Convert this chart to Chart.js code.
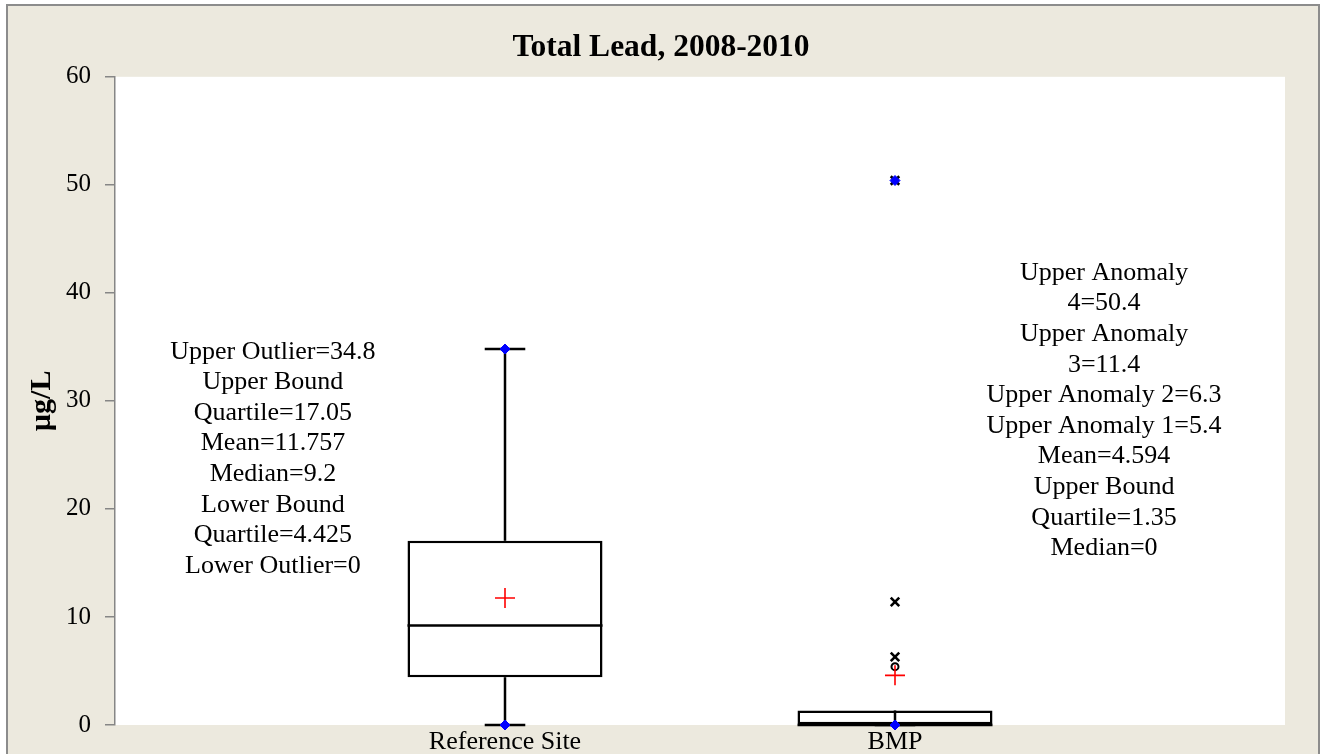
<!DOCTYPE html>
<html>
<head>
<meta charset="utf-8">
<title>Total Lead, 2008-2010</title>
<script src="https://cdn.jsdelivr.net/npm/chart.js@4/dist/chart.umd.min.js"></script>
<style>
  html, body { margin: 0; padding: 0; background: #ffffff; }
  #frame {
    position: absolute; left: 6px; top: 4px;
    width: 1310px; height: 800px;
    background: #ECE9DE; border: 2px solid #8c8c8c;
  }
  #wrap { position: absolute; left: 0; top: 0; width: 1322px; height: 754px; }
</style>
</head>
<body>
<div id="frame"></div>
<div id="wrap"><canvas id="LEADBOX" width="1322" height="754"></canvas></div>
<script>
// groups on the x axis (placed at 1, 2, ...)
var groups = ['Reference Site', 'BMP'];

// box statistics, one entry per group
var q1 = [4.425, 0];
var median = [9.2, 0];
var q3 = [17.05, 1.35];
var mean = [11.757, 4.594];

// whisker segments [from, to] per group
var lowerWhisker = [[0, 4.425], [0, 0]];
var upperWhisker = [[17.05, 34.8], [0, 1.35]];
var caps = [[0, 34.8], [0]];

// min / max markers and BMP anomalies
var extremes = [[0, 34.8], [0, 50.4]];
var anomalyStars = [6.3, 11.4, 50.4];
var anomalyCircles = [5.4];

var yTicks = [0, 10, 20, 30, 40, 50, 60];

var FONT = '"Liberation Serif", "Times New Roman", serif';
var CAP = 0.052;      // half width of whisker caps, in x units
var BOX_HALF = 0.25;  // half width of the boxes, in x units

var datasets = [];

// boxes
datasets.push({
    type: 'bar',
    data: groups.map(function (g, i) { return { x: i + 1, y: [q1[i], q3[i]] }; }),
    backgroundColor: '#ffffff',
    borderColor: '#000000',
    borderWidth: 2.5,
    borderSkipped: false,
    grouped: false,
    barPercentage: 0.5,
    categoryPercentage: 1,
    order: 4
});

function segment(pts) {
    return {
        type: 'line',
        data: pts,
        borderColor: '#000000',
        borderWidth: 2.5,
        pointRadius: 0,
        fill: false,
        tension: 0,
        clip: false,
        order: 2
    };
}

groups.forEach(function (g, i) {
    var x = i + 1;
    // median line across the box
    datasets.push(segment([{ x: x - BOX_HALF, y: median[i] }, { x: x + BOX_HALF, y: median[i] }]));
    // whiskers
    [lowerWhisker[i], upperWhisker[i]].forEach(function (w) {
        if (w[0] !== w[1]) datasets.push(segment([{ x: x, y: w[0] }, { x: x, y: w[1] }]));
    });
    caps[i].forEach(function (v) {
        datasets.push(segment([{ x: x - CAP, y: v }, { x: x + CAP, y: v }]));
    });
});

// means
datasets.push({
    type: 'scatter',
    data: mean.map(function (m, i) { return { x: i + 1, y: m }; }),
    pointStyle: 'cross',
    pointRadius: 10,
    borderColor: '#ff0000',
    borderWidth: 1.6,
    clip: false,
    order: 1
});

// BMP anomalies
datasets.push({
    type: 'scatter',
    data: anomalyStars.map(function (v) { return { x: 2, y: v }; }),
    pointStyle: 'crossRot',
    pointRadius: 6,
    borderColor: '#000000',
    borderWidth: 2.6,
    clip: false,
    order: 1
});
datasets.push({
    type: 'scatter',
    data: anomalyCircles.map(function (v) { return { x: 2, y: v }; }),
    pointStyle: 'circle',
    pointRadius: 3.5,
    borderColor: '#000000',
    backgroundColor: '#ffffff',
    borderWidth: 2,
    clip: false,
    order: 1
});

// min / max markers
var extremePts = [];
extremes.forEach(function (e, i) { e.forEach(function (v) { extremePts.push({ x: i + 1, y: v }); }); });
datasets.push({
    type: 'scatter',
    data: extremePts,
    pointStyle: 'rectRot',
    pointRadius: 5,
    backgroundColor: '#0000ff',
    borderColor: '#0000ff',
    borderWidth: 1,
    clip: false,
    order: 0
});

// label blocks next to each box
var labelBlocks = [
    {
        x: 0.405, yTop: 34.54,
        lines: [
            'Upper Outlier=' + extremes[0][1],
            'Upper Bound', 'Quartile=' + q3[0],
            'Mean=' + mean[0],
            'Median=' + median[0],
            'Lower Bound', 'Quartile=' + q1[0],
            'Lower Outlier=' + extremes[0][0]
        ]
    },
    {
        x: 2.536, yTop: 41.85,
        lines: [
            'Upper Anomaly', '4=' + anomalyStars[2],
            'Upper Anomaly', '3=' + anomalyStars[1],
            'Upper Anomaly 2=' + anomalyStars[0],
            'Upper Anomaly 1=' + anomalyCircles[0],
            'Mean=' + mean[1],
            'Upper Bound', 'Quartile=' + q3[1],
            'Median=' + median[1]
        ]
    }
];

var plotBackground = {
    id: 'plotBackground',
    beforeDraw: function (chart) {
        var a = chart.chartArea, ctx = chart.ctx;
        ctx.save();
        ctx.fillStyle = '#ffffff';
        ctx.fillRect(a.left, a.top, a.right - a.left, a.bottom - a.top);
        ctx.restore();
    }
};

var blockLabels = {
    id: 'blockLabels',
    afterDatasetsDraw: function (chart) {
        var ctx = chart.ctx, xs = chart.scales.x, ys = chart.scales.y;
        ctx.save();
        ctx.font = '26px ' + FONT;
        ctx.fillStyle = '#000000';
        ctx.textAlign = 'center';
        ctx.textBaseline = 'middle';
        labelBlocks.forEach(function (b) {
            var px = xs.getPixelForValue(b.x);
            var py = ys.getPixelForValue(b.yTop);
            b.lines.forEach(function (t, k) { ctx.fillText(t, px, py + k * 30.6); });
        });
        ctx.restore();
    }
};

var leadChart = new Chart(document.getElementById('LEADBOX').getContext('2d'), {
    type: 'bar',
    data: { datasets: datasets },
    plugins: [plotBackground, blockLabels],
    options: {
        responsive: false,
        animation: false,
        layout: { padding: 0 },
        plugins: {
            legend: { display: false },
            tooltip: { enabled: false },
            title: {
                display: true,
                text: 'Total Lead, 2008-2010',
                color: '#000000',
                font: { family: FONT, size: 31.5, weight: 'bold' },
                padding: { top: 29, bottom: 10 }
            }
        },
        scales: {
            x: {
                type: 'linear',
                min: 0,
                max: groups.length + 1,
                offset: false,
                grid: { display: false, drawTicks: false },
                border: { display: false },
                afterBuildTicks: function (s) {
                    s.ticks = groups.map(function (g, i) { return { value: i + 1 }; });
                },
                afterFit: function (s) { s.height = 29; },
                ticks: {
                    autoSkip: false,
                    maxRotation: 0,
                    padding: 2,
                    color: '#000000',
                    font: { family: FONT, size: 26 },
                    callback: function (v) { return groups[v - 1]; }
                }
            },
            y: {
                min: 0,
                max: 60,
                afterBuildTicks: function (s) {
                    s.ticks = yTicks.map(function (v) { return { value: v }; });
                },
                afterFit: function (s) { s.width = 115; },
                grid: {
                    drawOnChartArea: false,
                    drawTicks: true,
                    tickLength: 10,
                    color: '#868686',
                    lineWidth: 1.5
                },
                border: { display: true, color: '#868686', width: 1.5 },
                ticks: {
                    padding: 14,
                    color: '#000000',
                    font: { family: FONT, size: 25 }
                },
                title: {
                    display: true,
                    text: 'µg/L',
                    color: '#000000',
                    font: { family: FONT, size: 30, weight: 'bold' },
                    padding: { top: 24, bottom: 0 }
                }
            },
            // empty right-hand axis that keeps the margin beside the plot
            yRight: {
                position: 'right',
                min: 0,
                max: 1,
                grid: { display: false, drawTicks: false },
                border: { display: false },
                ticks: { display: false },
                afterFit: function (s) { s.width = 37; }
            }
        }
    }
});
</script>
</body>
</html>
